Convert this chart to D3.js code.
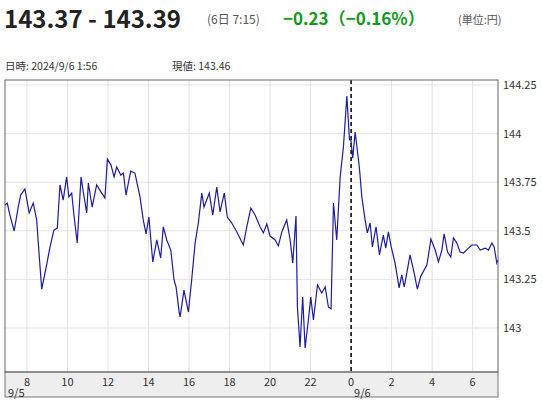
<!DOCTYPE html>
<html><head><meta charset="utf-8">
<script src="https://cdn.jsdelivr.net/npm/d3@7"></script>
<style>body{margin:0;background:#fff;font-family:"Noto Sans CJK JP","Open Sans",sans-serif}</style>
</head><body><svg id="c" width="543" height="400"></svg>
<script>
const hours=[6.91,7.03,7.16,7.37,7.57,7.69,7.90,8.11,8.31,8.48,8.61,8.73,8.97,9.14,9.33,9.50,9.63,9.79,9.96,10.07,10.21,10.32,10.48,10.67,10.78,10.95,11.03,11.22,11.44,11.69,11.85,11.97,12.15,12.30,12.43,12.63,12.76,12.89,13.12,13.33,13.58,13.74,13.88,14.02,14.21,14.41,14.60,14.73,14.90,15.10,15.26,15.36,15.52,15.56,15.75,15.97,16.13,16.30,16.46,16.63,16.74,17.00,17.17,17.37,17.53,17.74,17.89,18.11,18.36,18.68,18.85,19.05,19.26,19.51,19.67,19.84,20.00,20.25,20.41,20.58,20.82,20.99,21.12,21.28,21.35,21.48,21.61,21.73,21.89,22.01,22.14,22.34,22.55,22.72,22.88,23.01,23.13,23.29,23.46,23.62,23.79,23.92,23.99,24.08,24.20,24.41,24.53,24.69,24.80,24.94,25.05,25.23,25.40,25.59,25.71,25.84,25.98,26.17,26.37,26.50,26.62,26.75,26.91,27.11,27.27,27.44,27.74,27.94,28.15,28.31,28.48,28.59,28.76,28.92,29.05,29.22,29.38,29.55,29.74,29.96,30.21,30.37,30.62,30.78,30.95,31.06,31.19,31.25];
const prices=[143.633,143.643,143.581,143.499,143.622,143.684,143.715,143.592,143.643,143.556,143.365,143.200,143.324,143.417,143.504,143.514,143.736,143.658,143.777,143.674,143.694,143.581,143.437,143.777,143.700,143.592,143.746,143.622,143.736,143.694,143.669,143.869,143.838,143.777,143.828,143.787,143.797,143.684,143.807,143.797,143.674,143.556,143.484,143.571,143.340,143.453,143.360,143.520,143.453,143.401,143.247,143.211,143.077,143.057,143.195,143.082,143.247,143.437,143.540,143.694,143.622,143.694,143.581,143.725,143.597,143.694,143.571,143.540,143.494,143.427,143.520,143.617,143.581,143.520,143.489,143.535,143.473,143.453,143.422,143.494,143.556,143.453,143.334,143.576,143.108,142.902,143.159,142.897,143.041,143.159,143.041,143.221,143.180,143.211,143.108,143.098,143.643,143.453,143.777,143.931,144.193,143.967,143.967,143.874,144.008,143.823,143.674,143.556,143.489,143.540,143.417,143.520,143.376,143.478,143.411,143.494,143.417,143.334,143.206,143.273,143.211,143.283,143.376,143.283,143.200,143.267,143.324,143.458,143.401,143.340,143.401,143.484,143.391,143.365,143.463,143.437,143.391,143.386,143.406,143.427,143.427,143.401,143.411,143.401,143.437,143.417,143.334,143.350];
const xTicks=[8,10,12,14,16,18,20,22,24,26,28,30];
const yTicks=[143,143.25,143.5,143.75,144,144.25];
const svg=d3.select("#c");
const L=5,R=498,T=80,B=372;
const x=d3.scaleLinear().domain([6.917,31.25]).range([L,R]);
const y=d3.scaleLinear().domain([143,144.25]).range([328,85]);
svg.append("text").attr("x",4).attr("y",28).attr("font-size",24).attr("font-weight","bold").attr("fill","#222").text("143.37 - 143.39");
svg.append("text").attr("x",207).attr("y",24).attr("font-size",12).attr("fill","#555").text("(6日 7:15)");
svg.append("text").attr("x",283).attr("y",25).attr("font-size",17).attr("font-weight","bold").attr("fill","#139a1c").text("−0.23（−0.16%）");
svg.append("text").attr("x",458).attr("y",24).attr("font-size",11).attr("fill","#555").text("(単位:円)");
svg.append("text").attr("x",5).attr("y",70).attr("font-size",10.5).attr("fill","#333").text("日時: 2024/9/6  1:56");
svg.append("text").attr("x",172).attr("y",70).attr("font-size",10.5).attr("fill","#333").text("現値: 143.46");
const g=svg.append("g");
g.selectAll(".vg").data(xTicks).join("line").attr("x1",d=>x(d)).attr("x2",d=>x(d)).attr("y1",T).attr("y2",B).attr("stroke","#e3e3e3");
g.selectAll(".hg").data(yTicks).join("line").attr("x1",L).attr("x2",R).attr("y1",d=>y(d)).attr("y2",d=>y(d)).attr("stroke","#e3e3e3");
svg.append("rect").attr("x",L).attr("y",B).attr("width",R-L).attr("height",25).attr("fill","#eeeeee").attr("stroke","#777");
svg.append("line").attr("x1",x(24)).attr("x2",x(24)).attr("y1",T).attr("y2",B).attr("stroke","#000").attr("stroke-width",1.5).attr("stroke-dasharray","4,3");
const data=hours.map((h,i)=>[h,prices[i]]);
svg.append("path").datum(data).attr("fill","none").attr("stroke","#1c1c9c").attr("stroke-width",1.2)
 .attr("d",d3.line().x(d=>x(d[0])).y(d=>y(d[1])));
svg.append("rect").attr("x",L).attr("y",T).attr("width",R-L).attr("height",B-T).attr("fill","none").attr("stroke","#666");
svg.selectAll(".xl").data(xTicks).join("text").attr("x",d=>x(d)).attr("y",386).attr("text-anchor","middle").attr("font-size",11).attr("fill","#333").text(d=>d%24);
svg.append("text").attr("x",8).attr("y",397).attr("font-size",11).attr("fill","#333").text("9/5");
svg.append("text").attr("x",x(24)+3).attr("y",397).attr("font-size",11).attr("fill","#333").text("9/6");
svg.selectAll(".yl").data(yTicks).join("text").attr("x",503).attr("y",d=>y(d)+4).attr("font-size",11).attr("fill","#333").text(d=>d);
</script></body></html>
